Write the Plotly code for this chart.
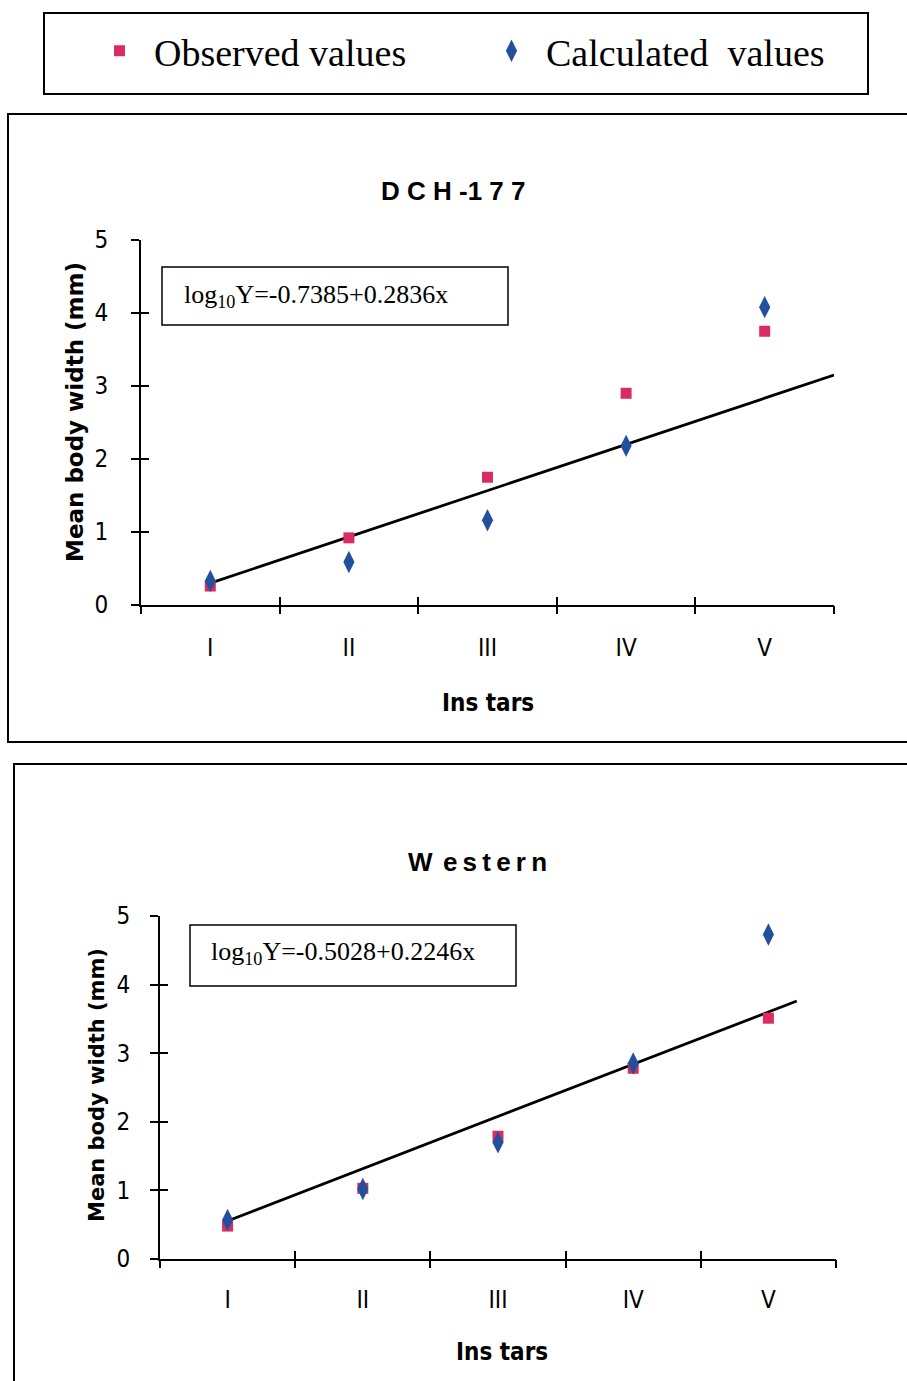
import plotly.graph_objects as go

# Instar categories (1..5 on a numeric axis, labelled in Roman numerals)
instar_pos = [1, 2, 3, 4, 5]
instar_labels = ["I", "II", "III", "IV", "V"]
boundaries = [0.5, 1.5, 2.5, 3.5, 4.5, 5.5]

# DCH-177: mean body width (mm)
dch_observed = [0.26, 0.92, 1.75, 2.90, 3.75]
dch_calculated = [0.33, 0.59, 1.16, 2.18, 4.08]
dch_trend_x = [1.0, 5.5]
dch_trend_y = [0.30, 3.15]
dch_equation = "log<sub>10</sub>Y=-0.7385+0.2836x"

# Western: mean body width (mm)
west_observed = [0.48, 1.03, 1.79, 2.78, 3.51]
west_calculated = [0.57, 1.02, 1.70, 2.85, 4.73]
west_trend_x = [0.98, 5.21]
west_trend_y = [0.54, 3.76]
west_equation = "log<sub>10</sub>Y=-0.5028+0.2246x"

W, H = 907, 1381
RED = "#db2c60"
BLUE = "#23509c"
SERIF = "Liberation Serif, Times New Roman, serif"
SANS = "Liberation Sans, Arial, sans-serif"
NARROW = "Liberation Sans Narrow, DejaVu Sans Condensed, Arial Narrow, sans-serif"


def px_x(v):
    return v / W


def px_y(v):
    return 1 - v / H


fig = go.Figure()


def add_panel(observed, calculated, tx, ty, xa, ya, show_legend):
    fig.add_trace(go.Scatter(
        x=tx, y=ty, mode="lines", line=dict(color="black", width=2.8),
        showlegend=False, xaxis=xa, yaxis=ya, hoverinfo="skip"))
    fig.add_trace(go.Scatter(
        x=instar_pos, y=observed, mode="markers", name="Observed values",
        marker=dict(symbol="square", size=11, color=RED),
        showlegend=show_legend, xaxis=xa, yaxis=ya))
    fig.add_trace(go.Scatter(
        x=instar_pos, y=calculated, mode="markers", name="Calculated  values",
        marker=dict(symbol="diamond-tall", size=16, color=BLUE),
        showlegend=show_legend, xaxis=xa, yaxis=ya))


add_panel(dch_observed, dch_calculated, dch_trend_x, dch_trend_y, "x", "y", True)
add_panel(west_observed, west_calculated, west_trend_x, west_trend_y, "x4", "y3", False)

axis_line = dict(showline=True, linecolor="black", linewidth=2, showgrid=False,
                 zeroline=False, fixedrange=True)


def set_axes(xdom, ydom, xmain, xo1, xo2, ymain, yo1, xlab_std, ylab_std):
    # category axis: labels at the centres, crossing tick marks at the boundaries
    fig.layout[xmain] = dict(
        domain=xdom, range=[0.5, 5.5], anchor=ymain.replace("axis", ""),
        tickmode="array", tickvals=instar_pos, ticktext=instar_labels, ticks="",
        tickfont=dict(family=NARROW, size=24, color="black"),
        ticklabelstandoff=xlab_std, **axis_line)
    for name, side in ((xo1, "outside"), (xo2, "inside")):
        fig.layout[name] = dict(
            domain=xdom, range=[0.5, 5.5], anchor=ymain.replace("axis", ""),
            overlaying=xmain.replace("axis", ""), tickmode="array",
            tickvals=boundaries, ticks=side, ticklen=8, tickwidth=2,
            tickcolor="black", showticklabels=False, showline=False,
            showgrid=False, zeroline=False, fixedrange=True)
    fig.layout[ymain] = dict(
        domain=ydom, range=[0, 5], anchor=xmain.replace("axis", ""),
        tickmode="array", tickvals=[0, 1, 2, 3, 4, 5], ticks="outside",
        ticklen=8, tickwidth=2, tickcolor="black",
        tickfont=dict(family=NARROW, size=24, color="black"),
        ticklabelstandoff=ylab_std, **axis_line)
    fig.layout[yo1] = dict(
        domain=ydom, range=[0, 5], anchor=xmain.replace("axis", ""),
        overlaying=ymain.replace("axis", ""), tickmode="array",
        tickvals=[0, 1, 2, 3, 4, 5], ticks="inside", ticklen=8, tickwidth=2,
        tickcolor="black", showticklabels=False, showline=False,
        showgrid=False, zeroline=False, fixedrange=True)


set_axes([px_x(141), px_x(834)], [px_y(605), px_y(240)],
         "xaxis", "xaxis2", "xaxis3", "yaxis", "yaxis2", 20, 18)
set_axes([px_x(160), px_x(836)], [px_y(1259), px_y(916)],
         "xaxis4", "xaxis5", "xaxis6", "yaxis3", "yaxis4", 18, 15)

# invisible traces so the overlay axes get drawn
for xa, ya in (("x2", "y"), ("x3", "y"), ("x", "y2"),
               ("x5", "y3"), ("x6", "y3"), ("x4", "y4")):
    fig.add_trace(go.Scatter(x=[None], y=[None], xaxis=xa, yaxis=ya,
                             showlegend=False, hoverinfo="skip"))

shapes = [
    # legend frame
    dict(type="rect", xref="paper", yref="paper", x0=px_x(44), x1=px_x(868),
         y0=px_y(94), y1=px_y(13), line=dict(color="black", width=2)),
    # panel frames
    dict(type="rect", xref="paper", yref="paper", x0=px_x(8), x1=1.02,
         y0=px_y(742), y1=px_y(114), line=dict(color="black", width=2)),
    dict(type="rect", xref="paper", yref="paper", x0=px_x(14), x1=1.02,
         y0=-0.02, y1=px_y(764), line=dict(color="black", width=2)),
    # equation boxes
    dict(type="rect", xref="paper", yref="paper", x0=px_x(162), x1=px_x(508),
         y0=px_y(325), y1=px_y(267), line=dict(color="black", width=1.5)),
    dict(type="rect", xref="paper", yref="paper", x0=px_x(190), x1=px_x(516),
         y0=px_y(986), y1=px_y(925), line=dict(color="black", width=1.5)),
]

THIN = "\u2009"
annotations = [
    dict(text="<b>D C H -1 7 7</b>", x=px_x(453), y=px_y(191),
         font=dict(family=SANS, size=26, color="black")),
    dict(text="<b>" + THIN.join("Western").replace("W", "W" + THIN) + "</b>",
         x=px_x(478), y=px_y(862),
         font=dict(family=SANS, size=26, color="black")),
    dict(text="<b>Ins tars</b>", x=px_x(488), y=px_y(703),
         font=dict(family=NARROW, size=24, color="black")),
    dict(text="<b>Ins tars</b>", x=px_x(502), y=px_y(1352),
         font=dict(family=NARROW, size=24, color="black")),
    dict(text="<b>Mean body width (mm)</b>", x=px_x(75), y=px_y(412), textangle=-90,
         font=dict(family="DejaVu Sans, Arial, sans-serif", size=23, color="black")),
    dict(text="<b>Mean body width (mm)</b>", x=px_x(97), y=px_y(1085), textangle=-90,
         font=dict(family="DejaVu Sans, Arial, sans-serif", size=21, color="black")),
    dict(text=dch_equation, x=px_x(182), y=px_y(296), xanchor="left",
         font=dict(family=SERIF, size=26, color="black")),
    dict(text=west_equation, x=px_x(209), y=px_y(953), xanchor="left",
         font=dict(family=SERIF, size=26, color="black")),
]
for a in annotations:
    a.update(xref="paper", yref="paper", showarrow=False)
    a.setdefault("xanchor", "center")
    a.setdefault("yanchor", "middle")

fig.update_layout(
    width=W, height=H,
    margin=dict(l=0, r=0, t=0, b=0, autoexpand=False),
    paper_bgcolor="white", plot_bgcolor="white",
    shapes=shapes, annotations=annotations,
    showlegend=True,
    legend=dict(orientation="h", x=px_x(85), y=px_y(51), xanchor="left",
                yanchor="middle", entrywidth=318, entrywidthmode="pixels",
                itemwidth=59, bgcolor="rgba(0,0,0,0)", borderwidth=0,
                font=dict(family=SERIF, size=38, color="black")),
)

fig.write_html("out.html")
